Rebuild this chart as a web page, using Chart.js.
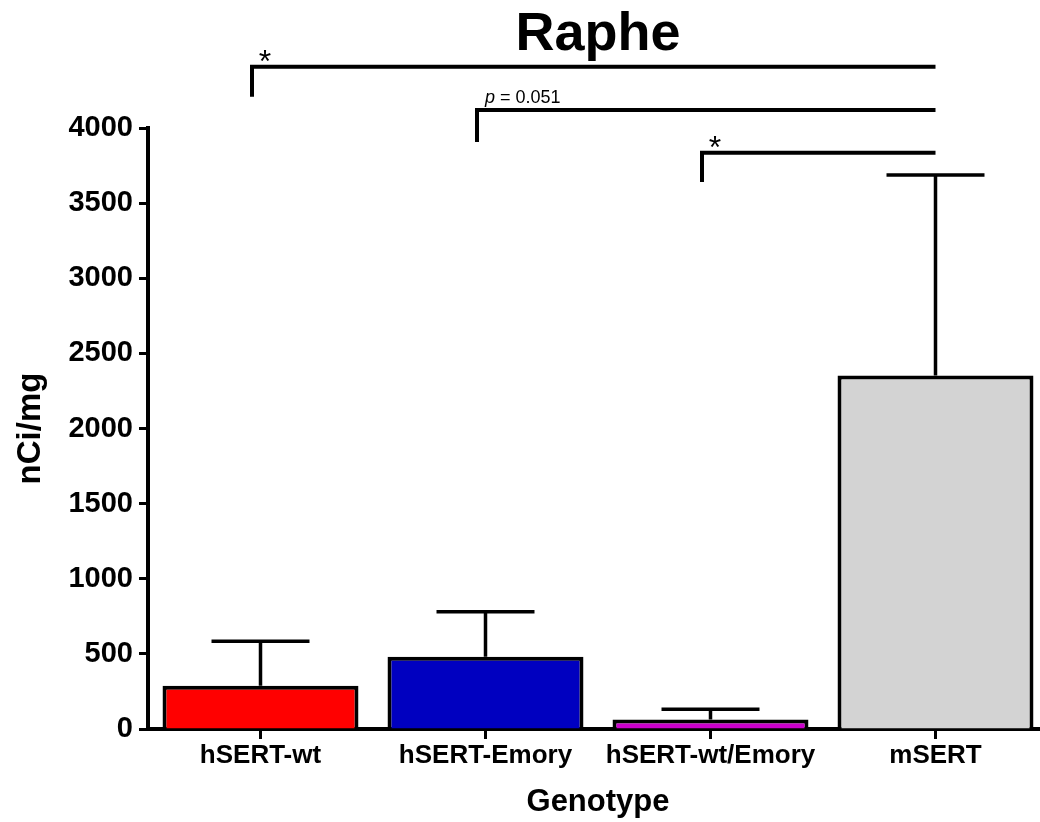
<!DOCTYPE html>
<html>
<head>
<meta charset="utf-8">
<title>Raphe</title>
<script src="https://cdn.jsdelivr.net/npm/chart.js@4.4.1/dist/chart.umd.min.js"></script>
<style>
    html, body { margin: 0; padding: 0; background: #fff; overflow: hidden; }
    #wrap { width: 1048px; height: 822px; }
</style>
</head>
<body>
<div id="wrap"><canvas id="rapheChart" width="1048" height="822"></canvas></div>
<script>
// Data
const genotypes = ['hSERT-wt', 'hSERT-Emory', 'hSERT-wt/Emory', 'mSERT'];
const meanVals = [288, 481, 63, 2352];
const semVals = [296, 300, 68, 1336];
const barColors = ['#ff0000', '#0000c0', '#cc00cc', '#d3d3d3'];

// Significance brackets (category index from -> to, bracket level, left drop end)
const bracketFrom = [0, 1, 2];
const bracketTo = [3, 3, 3];
const bracketTop = [4408, 4120, 3835];
const bracketDrop = [4208, 3907, 3640];
const bracketLabels = ['*', 'p = 0.051', '*'];

const FONT = "'Liberation Sans', Arial, sans-serif";

// Draw the upward SEM bars
const errorBars = {
    id: 'errorBars',
    afterDatasetsDraw(chart) {
        const ctx = chart.ctx;
        const meta = chart.getDatasetMeta(0);
        const y = chart.scales.y;
        ctx.save();
        ctx.strokeStyle = '#000';
        ctx.lineWidth = 3.5;
        meta.data.forEach((bar, i) => {
            const top = y.getPixelForValue(meanVals[i] + semVals[i]);
            const half = bar.width / 4;
            ctx.beginPath();
            ctx.moveTo(bar.x, bar.y);
            ctx.lineTo(bar.x, top);
            ctx.moveTo(bar.x - half, top);
            ctx.lineTo(bar.x + half, top);
            ctx.stroke();
        });
        ctx.restore();
    }
};

// Draw the comparison brackets above the plot
const sigBrackets = {
    id: 'sigBrackets',
    afterDraw(chart) {
        const ctx = chart.ctx;
        const x = chart.scales.x;
        const y = chart.scales.y;
        ctx.save();
        ctx.strokeStyle = '#000';
        ctx.fillStyle = '#000';
        ctx.lineWidth = 4;
        ctx.lineCap = 'butt';
        bracketFrom.forEach((from, i) => {
            const x1 = x.getPixelForValue(bracketFrom[i]) - 8.5;
            const x2 = x.getPixelForValue(bracketTo[i]);
            const yTop = y.getPixelForValue(bracketTop[i]);
            const yDrop = y.getPixelForValue(bracketDrop[i]);
            ctx.beginPath();
            ctx.moveTo(x1, yDrop);
            ctx.lineTo(x1, yTop);
            ctx.lineTo(x2, yTop);
            ctx.stroke();

            const label = bracketLabels[i];
            if (label === '*') {
                ctx.font = '32px ' + FONT;
                ctx.textAlign = 'center';
                ctx.textBaseline = 'alphabetic';
                ctx.fillText('*', x1 + 13, yTop + 5);
            } else {
                ctx.textBaseline = 'alphabetic';
                ctx.textAlign = 'left';
                ctx.font = 'italic 18px ' + FONT;
                ctx.fillText('p', x1 + 8, yTop - 7);
                const w = ctx.measureText('p').width;
                ctx.font = '18px ' + FONT;
                ctx.fillText(label.slice(1), x1 + 8 + w, yTop - 7);
            }
        });
        ctx.restore();
    }
};

const ctx = document.getElementById('rapheChart').getContext('2d');
const rapheChart = new Chart(ctx, {
    type: 'bar',
    data: {
        labels: genotypes,
        datasets: [
            {
                data: meanVals,
                backgroundColor: barColors,
                borderColor: '#000',
                borderWidth: 4,
                borderSkipped: 'start',
                categoryPercentage: 1.0,
                barPercentage: 0.871,
            },
        ],
    },
    options: {
        responsive: false,
        animation: false,
        devicePixelRatio: 1,
        layout: {
            padding: { top: 0, left: 0, right: 0, bottom: 0 },
        },
        plugins: {
            legend: { display: false },
            tooltip: { enabled: false },
            title: {
                display: true,
                text: 'Raphe',
                fullSize: false,
                color: '#000',
                font: { family: FONT, size: 54, weight: 'bold', lineHeight: 1.0 },
                padding: { top: 8, bottom: 66 },
            },
        },
        scales: {
            x: {
                grid: {
                    display: true,
                    offset: false,
                    drawOnChartArea: false,
                    drawTicks: true,
                    tickLength: 10,
                    tickWidth: 3,
                    color: '#000',
                },
                border: { display: true, color: '#000', width: 4 },
                ticks: {
                    color: '#000',
                    padding: 1,
                    font: { family: FONT, size: 26, weight: 'bold' },
                },
                title: {
                    display: true,
                    text: 'Genotype',
                    color: '#000',
                    font: { family: FONT, size: 31, weight: 'bold' },
                    padding: { top: 4, bottom: 1 },
                },
                afterFit(scale) { scale.height = 93; },
            },
            y: {
                min: 0,
                max: 4000,
                grid: {
                    display: true,
                    drawOnChartArea: false,
                    drawTicks: true,
                    tickLength: 9,
                    tickWidth: 3,
                    color: '#000',
                },
                border: { display: true, color: '#000', width: 4 },
                ticks: {
                    stepSize: 500,
                    color: '#000',
                    padding: 6,
                    font: { family: FONT, size: 29, weight: 'bold' },
                    callback: (value) => String(value),
                },
                title: {
                    display: true,
                    text: 'nCi/mg',
                    color: '#000',
                    font: { family: FONT, size: 33, weight: 'bold' },
                    padding: { top: 11, bottom: 0 },
                },
                afterFit(scale) { scale.width = 148; },
            },
        },
    },
    plugins: [errorBars, sigBrackets],
});
</script>
</body>
</html>
